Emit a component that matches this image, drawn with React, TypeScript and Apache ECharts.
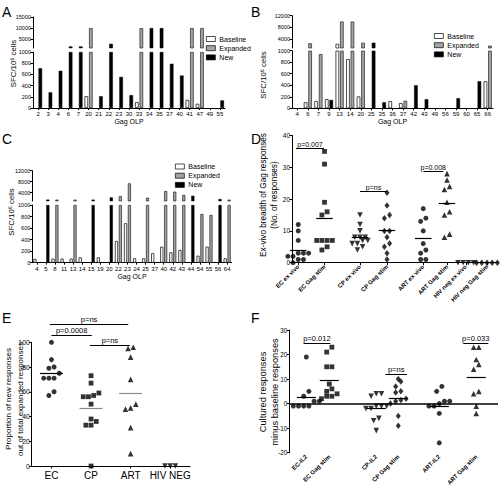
import React, { useEffect, useRef } from 'react';
import * as echarts from 'echarts';

const FONT = "'Liberation Sans', Arial, Helvetica, sans-serif";
type N = number | null;

// ---------- Panel A (SFC/10^6 cells per Gag OLP) ----------
const A_OLP = ['2', '3', '4', '6', '7', '20', '21', '22', '23', '30', '33', '34', '35', '37', '40', '41', '47', '49', '55'];
const A_BASELINE: N[] = [null, null, null, null, null, 210, null, null, null, null, 105, null, null, null, null, 145, 75, null, null];
const A_EXPANDED: N[] = [null, null, null, null, null, 10000, null, null, null, null, 10000, null, null, null, null, 10000, 10000, null, null];
const A_NEW: N[] = [710, 280, 665, 1700, 1700, null, 210, 2900, 555, 230, null, 10000, 10000, 790, 580, null, null, null, 135];

// ---------- Panel B ----------
const B_OLP = ['4', '6', '7', '9', '13', '14', '20', '25', '35', '36', '37', '42', '43', '49', '56', '59', '60', '65', '66'];
const B_BASELINE: N[] = [null, 105, 127, 160, 2400, 855, 205, null, null, 125, 90, null, null, null, null, null, null, null, 470];
const B_EXPANDED: N[] = [null, 2600, 940, null, 10000, 10000, 2800, null, null, null, 130, null, null, null, null, null, null, null, 1800];
const B_NEW: N[] = [null, null, null, 145, null, null, null, 2800, 105, null, null, 400, 158, null, null, 175, null, 470, null];

// ---------- Panel C ----------
const C_OLP = ['4', '5', '8', '11', '13', '14', '15', '19', '20', '22', '23', '24', '25', '37', '40', '42', '43', '44', '54', '55', '56', '64'];
const C_BASELINE: N[] = [65, null, 70, 70, 70, 92, null, 92, null, 375, 683, 76, 76, 163, 277, 180, 220, null, 121, 277, null, 76];
const C_EXPANDED: N[] = [null, null, 1500, null, 1500, null, null, null, null, 2800, 7400, null, 2200, null, 4600, 4400, 3200, null, 844, 827, null, 1500];
const C_NEW: N[] = [null, 1500, null, null, null, null, 1500, null, 2300, null, null, null, null, null, null, null, null, 2900, null, null, 1700, null];

const BAR_TICKS_LOWER = [0, 200, 400, 600, 800, 1000];
const A_UPPER_TICKS = [5000, 10000, 15000];
const BC_UPPER_TICKS = [4000, 8000, 12000];

// ---------- Panel D (breadth, No. of responses) ----------
const D_GROUPS = ['EC ex vivo', 'EC Gag stim', 'CP ex vivo', 'CP Gag stim', 'ART ex vivo', 'ART Gag stim', 'HIV neg ex vivo', 'HIV neg Gag stim'];
const D_EC_EX = [12, 10, 7, 3, 3, 3, 2, 2, 1, 1, 0];
const D_EC_GAG = [35, 31, 19, 16, 15, 7, 7, 7, 7, 5, 4];
const D_CP_EX = [15, 12, 10, 8, 8, 8, 7, 7, 6, 6, 5, 4];
const D_CP_GAG = [22, 18, 15, 14, 10, 10, 8, 6, 5, 3, 1];
const D_ART_EX = [17, 14, 13, 10, 6, 4, 3, 1, 1];
const D_ART_GAG = [28, 26, 24, 23, 19, 16, 15, 9, 8];
const D_HIV_EX = [0, 0, 0, 0];
const D_HIV_GAG = [0, 0, 0, 0, 0];
const D_TICKS = [0, 10, 20, 30, 40];

// ---------- Panel E (proportion of new responses) ----------
const E_GROUPS = ['EC', 'CP', 'ART', 'HIV NEG'];
const E_EC = [100, 86, 80, 79, 75, 71, 71, 71, 60, 57];
const E_CP = [73, 67, 59, 57, 56, 56, 50, 38, 36, 33, 33, 0];
const E_ART = [96, 95, 88, 70, 50, 47, 46, 31, 10];
const E_HIV = [0, 0, 0];

// ---------- Panel F (cultured minus baseline) ----------
const F_GROUPS = ['EC-IL2', 'EC Gag stim', 'CP-IL2', 'CP Gag stim', 'ART-IL2', 'ART Gag stim'];
const F_EC_IL2 = [19, 5, 3, 1, 1, -1, -1, -1, -1];
const F_EC_GAG = [23, 21, 15, 15, 8, 6, 5, 4, 3, 3, 2];
const F_CP_IL2 = [4, 4, 3, -1, -1, -1, -2, -2, -6, -7, -11];
const F_CP_GAG = [10, 9, 7, 5, 4.5, 2, 1.5, 1, 0, -5, -9];
const F_ART_IL2 = [7, 5, 1, 1, 0, -1, -1, -4, -16];
const F_ART_GAG = [23, 23, 18, 16, 14, 5, 4, -1, -4];

// ---------- annotations (p-values) ----------
const D_PVALS = ['p=0.007', 'p=ns', 'p=0.008'];
const E_PVALS = ['p=0.0008', 'p=ns', 'p=ns'];
const F_PVALS = ['p=0.012', 'p=ns', 'p=0.033'];

// layout: group slot positions on the x axes and annotation spans
const D_SLOT = [0.25, 1.3, 2.72, 3.8, 5.25, 6.2, 6.95, 7.8];
const E_SLOT = [0, 1, 2, 3];
const F_SLOT = [0.68, 1.6, 3.48, 4.36, 6.0, 7.48];
const D_PSPAN = [[0.16, 1.28, 36], [2.72, 3.8, 22.6], [5.25, 6.05, 28.8]];
const E_PSPAN = [[0.0, 1.02, 106], [0.97, 1.98, 97.8], [-0.04, 1.94, 114.8]];
const F_PSPAN = [[0.57, 1.64, 24.6], [3.84, 4.71, 12], [6.96, 7.96, 24.6]];

const GRIDS = [
  { left: 33, top: 52, width: 192, height: 56 }, // 0 A lower
  { left: 33, top: 17, width: 192, height: 31 }, // 1 A upper
  { left: 292, top: 50.7, width: 201, height: 57.6 }, // 2 B lower
  { left: 292, top: 15.7, width: 201, height: 32.3 }, // 3 B upper
  { left: 32.3, top: 205, width: 199.4, height: 57.7 }, // 4 C lower
  { left: 32.3, top: 170.7, width: 199.4, height: 30.3 }, // 5 C upper
  { left: 292, top: 135.5, width: 205, height: 127.2 }, // 6 D
  { left: 31.7, top: 342.3, width: 158.3, height: 123.7 }, // 7 E
  { left: 289.3, top: 330, width: 208.7, height: 127.3 }, // 8 F
];

const LINE = { show: true, onZero: false, lineStyle: { color: '#000', width: 1 } };
const TICK = { show: true, length: 2.5, lineStyle: { color: '#000', width: 1 } };
const plain = (v: number) => String(v);

const mean = (a: number[]) => a.reduce((s, v) => s + v, 0) / a.length;

function swarm(values: number[], center: number, pxY: number, pxX: number, gap = 5.2) {
  const idx = values.map((_, i) => i).sort((a, b) => values[a] - values[b]);
  const out: number[][] = new Array(values.length);
  let i = 0;
  while (i < idx.length) {
    let j = i;
    while (j + 1 < idx.length && (values[idx[j + 1]] - values[idx[i]]) * pxY < gap) j++;
    const n = j - i + 1;
    for (let k = 0; k < n; k++) {
      const off = ((k - (n - 1) / 2) * gap) / pxX;
      out[idx[i + k]] = [center + off, values[idx[i + k]]];
    }
    i = j + 1;
  }
  return out;
}

const SHAPES: Record<string, any> = {
  circle: { symbol: 'circle', symbolSize: 5, symbolRotate: 0 },
  square: { symbol: 'rect', symbolSize: 4.8, symbolRotate: 0 },
  up: { symbol: 'triangle', symbolSize: 5.6, symbolRotate: 0 },
  down: { symbol: 'triangle', symbolSize: 5.6, symbolRotate: 180 },
  diamond: { symbol: 'diamond', symbolSize: [5, 6.5], symbolRotate: 0 },
};

function segRender(labels: string[] | null, colors: string[], width: number, fontSize: number) {
  return (params: any, api: any) => {
    const i = params.dataIndex;
    const a = api.coord([api.value(0), api.value(2)]);
    const b = api.coord([api.value(1), api.value(2)]);
    const y = Math.round(a[1]) + 0.5;
    const children: any[] = [
      {
        type: 'line',
        shape: { x1: a[0], y1: y, x2: b[0], y2: y },
        style: { stroke: colors[i % colors.length], lineWidth: width, fill: null },
      },
    ];
    if (labels && labels[i]) {
      children.push({
        type: 'text',
        x: (a[0] + b[0]) / 2,
        y: y - 1,
        style: {
          text: labels[i], fontSize, fontFamily: FONT, fill: '#000',
          align: 'center', verticalAlign: 'bottom', textAlign: 'center', textVerticalAlign: 'bottom',
        },
      });
    }
    return { type: 'group', children };
  };
}

function buildOption() {
  const xAxis: any[] = [];
  const yAxis: any[] = [];
  const series: any[] = [];

  const barPanels = [
    { key: 'A', cats: A_OLP, base: A_BASELINE, exp: A_EXPANDED, nw: A_NEW, lo: 0, up: 1, upMax: 15000, upTicks: A_UPPER_TICKS, bw: 3.6, nameGap: 9 },
    { key: 'B', cats: B_OLP, base: B_BASELINE, exp: B_EXPANDED, nw: B_NEW, lo: 2, up: 3, upMax: 12000, upTicks: BC_UPPER_TICKS, bw: 3.6, nameGap: 8 },
    { key: 'C', cats: C_OLP, base: C_BASELINE, exp: C_EXPANDED, nw: C_NEW, lo: 4, up: 5, upMax: 12000, upTicks: BC_UPPER_TICKS, bw: 3.1, nameGap: 8.5 },
  ];

  const barStyles: Record<string, any> = {
    Baseline: { color: '#ffffff', borderColor: '#000', borderWidth: 0.7 },
    Expanded: { color: '#a4a4a4', borderColor: '#222', borderWidth: 0.7 },
    New: { color: '#000000', borderColor: '#000', borderWidth: 0.5 },
  };

  for (const p of barPanels) {
    xAxis.push({
      type: 'category', gridIndex: p.lo, data: p.cats,
      name: 'Gag OLP', nameLocation: 'middle', nameGap: p.nameGap,
      nameTextStyle: { fontSize: 7, color: '#000', fontFamily: FONT },
      axisLine: LINE, axisTick: { ...TICK, length: 2, alignWithLabel: true },
      axisLabel: { interval: 0, fontSize: 6, color: '#000', margin: 3, fontFamily: FONT },
    });
    yAxis.push({
      type: 'value', gridIndex: p.lo, min: 0, max: 1000, interval: 200,
      splitLine: { show: false }, axisLine: LINE, axisTick: TICK,
      axisLabel: { fontSize: 5.5, color: '#000', margin: 2, fontFamily: FONT, customValues: BAR_TICKS_LOWER, formatter: plain },
    });
    xAxis.push({ type: 'category', gridIndex: p.up, data: p.cats, show: false });
    yAxis.push({
      type: 'value', gridIndex: p.up, min: 1000, max: p.upMax,
      splitLine: { show: false }, axisLine: LINE,
      axisTick: { ...TICK, customValues: p.upTicks },
      axisLabel: { fontSize: 5.5, color: '#000', margin: 2, fontFamily: FONT, customValues: p.upTicks, formatter: plain },
    });

    const parts: [number, (v: N) => N, string][] = [
      [p.lo, (v) => (v == null ? null : Math.min(v, 1000)), 'lo'],
      [p.up, (v) => (v != null && v > 1000 ? v : null), 'up'],
    ];
    for (const [gi, f, tag] of parts) {
      const mk = (name: string, arr: N[], stack: string) => ({
        type: 'bar', name, xAxisIndex: gi, yAxisIndex: gi,
        data: arr.map(f), stack: p.key + tag + stack,
        barWidth: p.bw, barGap: '25%', itemStyle: barStyles[name], silent: true,
      });
      series.push(mk('Baseline', p.base, 'b'));
      series.push(mk('Expanded', p.exp, 'n'));
      series.push(mk('New', p.nw, 'n'));
    }
  }

  // ---------- D ----------
  const dLabel = (v: number) => {
    const i = D_SLOT.findIndex((s) => Math.abs(s - v) < 1e-6);
    return i >= 0 ? D_GROUPS[i] : '';
  };
  xAxis.push({
    type: 'value', gridIndex: 6, min: 0, max: 8.2, splitLine: { show: false },
    axisLine: LINE, axisTick: { ...TICK, customValues: D_SLOT },
    axisLabel: { customValues: D_SLOT, formatter: dLabel, rotate: 45, fontSize: 6, fontWeight: 'bold', color: '#000', margin: 3, fontFamily: FONT },
  });
  yAxis.push({
    type: 'value', gridIndex: 6, min: 0, max: 40, interval: 10, splitLine: { show: false },
    axisLine: LINE, axisTick: TICK,
    axisLabel: { fontSize: 6.5, color: '#000', margin: 2, fontFamily: FONT, customValues: D_TICKS, formatter: plain },
  });

  // ---------- E ----------
  xAxis.push({
    type: 'value', gridIndex: 7, min: -0.5, max: 3.5, splitLine: { show: false },
    axisLine: LINE, axisTick: { ...TICK, customValues: E_SLOT },
    axisLabel: {
      customValues: E_SLOT, formatter: (v: number) => E_GROUPS[Math.round(v)] ?? '',
      fontSize: 10, color: '#000', margin: 4, fontFamily: FONT,
    },
  });
  yAxis.push({
    type: 'value', gridIndex: 7, min: 0, max: 100, interval: 20, splitLine: { show: false },
    axisLine: LINE, axisTick: TICK,
    axisLabel: { fontSize: 6.8, color: '#000', margin: 2, fontFamily: FONT, formatter: plain },
  });

  // ---------- F ----------
  const fLabel = (v: number) => {
    const i = F_SLOT.findIndex((s) => Math.abs(s - v) < 1e-6);
    return i >= 0 ? F_GROUPS[i] : '';
  };
  xAxis.push({
    type: 'value', gridIndex: 8, min: 0, max: 8.35, splitLine: { show: false },
    axisLine: { show: false, onZero: false }, axisTick: { show: false },
    axisLabel: { customValues: F_SLOT, formatter: fLabel, rotate: 45, fontSize: 6, fontWeight: 'bold', color: '#000', margin: 3, fontFamily: FONT },
  });
  yAxis.push({
    type: 'value', gridIndex: 8, min: -20, max: 30, interval: 10, splitLine: { show: false },
    axisLine: LINE, axisTick: TICK,
    axisLabel: { fontSize: 6.3, color: '#000', margin: 2, fontFamily: FONT, formatter: plain },
  });

  const scat = (grid: number, vals: number[], center: number, pxY: number, pxX: number, shape: string, name: string) => ({
    type: 'scatter', name, xAxisIndex: grid, yAxisIndex: grid,
    data: swarm(vals, center, pxY, pxX), ...SHAPES[shape],
    itemStyle: { color: '#000' }, clip: false, silent: true,
  });

  const segSeries = (name: string, grid: number, data: number[][], labels: string[] | null, colors: string[], width: number, fs: number) => ({
    type: 'custom', name, xAxisIndex: grid, yAxisIndex: grid, clip: false, silent: true,
    color: '#000', itemStyle: { color: '#000' },
    data, encode: { x: [0, 1], y: 2 },
    renderItem: segRender(labels, colors, width, fs),
  });

  // D scatter
  const dPxY = 127.2 / 40, dPxX = 205 / 8.2;
  const dSets: [number[], string][] = [
    [D_EC_EX, 'circle'], [D_EC_GAG, 'square'], [D_CP_EX, 'down'], [D_CP_GAG, 'diamond'],
    [D_ART_EX, 'circle'], [D_ART_GAG, 'up'], [D_HIV_EX, 'down'], [D_HIV_GAG, 'diamond'],
  ];
  dSets.forEach(([vals, shape], i) => series.push(scat(6, vals, D_SLOT[i], dPxY, dPxX, shape, D_GROUPS[i])));
  series.push(segSeries('D means', 6, dSets.slice(0, 6).map(([vals], i) => [D_SLOT[i] - 0.33, D_SLOT[i] + 0.33, mean(vals)]), null, ['#000'], 1.2, 7));
  series.push(segSeries('D p', 6, D_PSPAN, D_PVALS, ['#000'], 1, 7));

  // E scatter
  const ePxY = 123.7 / 100, ePxX = 158.3 / 4;
  const eSets: [number[], string][] = [[E_EC, 'circle'], [E_CP, 'square'], [E_ART, 'up'], [E_HIV, 'down']];
  eSets.forEach(([vals, shape], i) => series.push(scat(7, vals, E_SLOT[i], ePxY, ePxX, shape, E_GROUPS[i])));
  series.push(segSeries('E means', 7, eSets.slice(0, 3).map(([vals], i) => [E_SLOT[i] - 0.29, E_SLOT[i] + 0.29, mean(vals)]), null, ['#000', '#8a8a8a', '#8a8a8a'], 1.2, 7));
  series.push(segSeries('E p', 7, E_PSPAN, E_PVALS, ['#000'], 1, 7.5));

  // F scatter
  const fPxY = 127.3 / 50, fPxX = 208.7 / 8.35;
  const fSets: [number[], string][] = [
    [F_EC_IL2, 'circle'], [F_EC_GAG, 'square'], [F_CP_IL2, 'down'], [F_CP_GAG, 'diamond'],
    [F_ART_IL2, 'circle'], [F_ART_GAG, 'up'],
  ];
  fSets.forEach(([vals, shape], i) => {
    const s: any = scat(8, vals, F_SLOT[i], fPxY, fPxX, shape, F_GROUPS[i]);
    if (i === 0) {
      s.markLine = {
        silent: true, symbol: ['none', 'none'], label: { show: false },
        lineStyle: { color: '#000', width: 1.6, type: 'solid' },
        data: [{ yAxis: 0 }],
      };
    }
    series.push(s);
  });
  series.push(segSeries('F means', 8, fSets.map(([vals], i) => [F_SLOT[i] - 0.38, F_SLOT[i] + 0.38, mean(vals)]), null, ['#000'], 1.2, 7));
  series.push(segSeries('F p', 8, F_PSPAN, F_PVALS, ['#000'], 1, 7.5));

  const legendCommon = {
    orient: 'vertical', data: ['Baseline', 'Expanded', 'New'], icon: 'rect',
    itemWidth: 9, itemHeight: 5, itemGap: 2.2, selectedMode: false, padding: 0,
    itemStyle: { borderColor: '#000', borderWidth: 0.7 },
    textStyle: { fontSize: 7, color: '#000', lineHeight: 5.5, fontFamily: FONT, padding: [0, 0, 0, -1] },
  };

  const letter = (t: string, x: number, y: number) => ({
    type: 'text', x, y,
    style: { text: t, fontSize: 14, fontFamily: FONT, fill: '#000', textAlign: 'left', textVerticalAlign: 'top', align: 'left', verticalAlign: 'top' },
  });
  const vname = (t: string, x: number, y: number, fontSize: number, lineHeight: number) => ({
    type: 'text', x, y, rotation: Math.PI / 2,
    style: {
      text: t, fontSize, lineHeight, fontFamily: FONT, fill: '#000',
      textAlign: 'center', textVerticalAlign: 'middle', align: 'center', verticalAlign: 'middle',
    },
  });

  return {
    animation: false,
    backgroundColor: '#ffffff',
    color: ['#000'],
    textStyle: { fontFamily: FONT },
    grid: GRIDS,
    xAxis,
    yAxis,
    legend: [
      { ...legendCommon, left: 206, top: 35.5 },
      { ...legendCommon, left: 434, top: 32.5 },
      { ...legendCommon, left: 175, top: 163 },
    ],
    graphic: [
      letter('A', 2, 5), letter('B', 251, 5), letter('C', 2, 132), letter('D', 251, 132),
      letter('E', 2, 311), letter('F', 251, 311),
      vname('SFC/10⁶ cells', 13, 63.5, 7.8, 9),
      vname('SFC/10⁶ cells', 263.5, 75, 7.8, 9),
      vname('SFC/10⁶ cells', 11.7, 212, 7.8, 9),
      vname('Ex-vivo breadth of Gag responses\n(No. of responses)', 268.5, 195, 8.2, 11),
      vname('Proportion of new responses\nout of total expanded responses', 14.3, 399, 8, 12.5),
      vname('Cultured responses\nminus baseline responses', 269, 392, 9.3, 12),
    ],
    series,
  };
}

export default function App() {
  const ref = useRef<HTMLDivElement>(null);
  useEffect(() => {
    if (!ref.current) return;
    const chart = echarts.init(ref.current, null, { renderer: 'svg' });
    chart.setOption(buildOption() as any);
    return () => chart.dispose();
  }, []);
  return (
    <div
      ref={ref}
      style={{ position: 'fixed', left: 0, top: 0, width: 500, height: 488, background: '#fff' }}
    />
  );
}
